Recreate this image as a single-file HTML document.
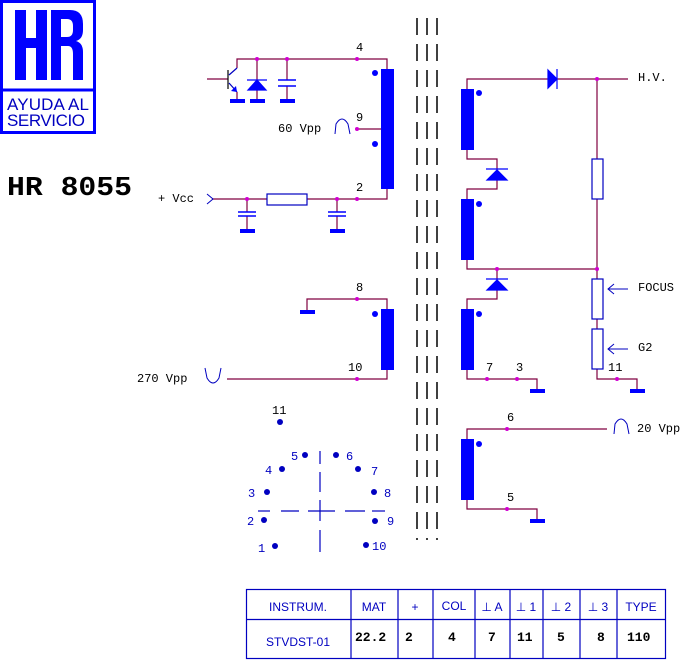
<!DOCTYPE html>
<html><head><meta charset="utf-8"><style>
html,body{margin:0;padding:0;background:#fff;}
svg{display:block;}
.m{font-family:"Liberation Mono",monospace;font-size:12px;fill:#000;}
.s{font-family:"Liberation Sans",sans-serif;fill:#0000c0;}
</style></head><body>
<svg width="686" height="660" viewBox="0 0 686 660" xmlns="http://www.w3.org/2000/svg">
<!-- logo -->
<rect x="1.5" y="1.5" width="93" height="131" fill="none" stroke="#0000ff" stroke-width="3"/>
<line x1="1.5" y1="90" x2="94.5" y2="90" stroke="#0000ff" stroke-width="3"/>
<path d="M15 10h11v28h10v-28h11v70h-11v-32h-10v32h-11z" fill="#0000ff"/>
<path d="M51 10h19q13 0 13 14v6q0 9-7 11q7 2 7 11v28h-10v-26q0-8-5-8h-7v34h-10z M61 19v18h6q6 0 6-7v-4q0-7-6-7z" fill="#0000ff" fill-rule="evenodd"/>
<text x="7" y="110" class="s" font-size="17" textLength="82">AYUDA AL</text>
<text x="7" y="126" class="s" font-size="17" textLength="78">SERVICIO</text>
<text x="7" y="195" font-family="Liberation Mono,monospace" font-weight="bold" font-size="27" fill="#000" textLength="125" lengthAdjust="spacingAndGlyphs">HR 8055</text>

<!-- core -->
<g stroke="#000" stroke-width="1.5" stroke-dasharray="17 9">
<line x1="417" y1="18" x2="417" y2="540"/><line x1="427" y1="18" x2="427" y2="540"/><line x1="437" y1="18" x2="437" y2="540"/>
</g>

<g fill="none" stroke="#800040" stroke-width="1.2">
<polyline points="237,68 237,59 387,59 387,69"/>
<line x1="257" y1="59" x2="257" y2="100"/>
<line x1="287" y1="59" x2="287" y2="80"/><line x1="287" y1="86" x2="287" y2="100"/>
<line x1="207" y1="79" x2="228" y2="79"/>
<line x1="357" y1="129" x2="387" y2="129"/>
<polyline points="212,199 387,199 387,189"/>
<line x1="247" y1="199" x2="247" y2="212"/><line x1="247" y1="216" x2="247" y2="230"/>
<line x1="337" y1="199" x2="337" y2="212"/><line x1="337" y1="216" x2="337" y2="230"/>
<polyline points="307,311 307,299 387,299 387,309"/>
<polyline points="227,379 387,379 387,370"/>
<polyline points="467,89 467,79 628,79"/>
<polyline points="467,150 467,159 497,159 497,189 467,189 467,199"/>
<polyline points="467,260 467,269 597,269"/>
<polyline points="497,269 497,299 467,299 467,309"/>
<polyline points="467,370 467,379 537,379 537,389"/>
<line x1="597" y1="79" x2="597" y2="159"/><line x1="597" y1="199" x2="597" y2="279"/>
<line x1="597" y1="319" x2="597" y2="329"/>
<polyline points="597,369 597,379 637,379 637,389"/>
<polyline points="467,439 467,429 607,429"/>
<polyline points="467,500 467,509 537,509 537,520"/>
</g>
<line x1="228" y1="70" x2="228" y2="89" stroke="#000" stroke-width="1.2"/>
<line x1="229" y1="75" x2="237" y2="68" stroke="#0000c0" stroke-width="1.2"/>
<line x1="229" y1="83" x2="237" y2="92" stroke="#0000c0" stroke-width="1.2"/>
<polygon points="237,92 231,91 236,86" fill="#0000ff"/>
<line x1="237" y1="92" x2="237" y2="100" stroke="#800040" stroke-width="1.2"/>
<g fill="#0000ff" stroke="#0000ff" stroke-width="1.2">
<polygon points="257,80 248,90 266,90"/><line x1="247" y1="80" x2="267" y2="80"/>
<polygon points="497,170 487,180 507,180"/><line x1="486" y1="169" x2="508" y2="169"/>
<polygon points="497,280 487,290 507,290"/><line x1="486" y1="279" x2="508" y2="279"/>
<polygon points="548,70 557,79 548,88"/><line x1="557" y1="69" x2="557" y2="89"/>
</g>
<g stroke="#0000ff" stroke-width="1.5">
<line x1="278" y1="80" x2="296" y2="80"/><line x1="278" y1="86" x2="296" y2="86"/>
<line x1="238" y1="212" x2="256" y2="212"/><line x1="238" y1="216" x2="256" y2="216"/>
<line x1="328" y1="212" x2="346" y2="212"/><line x1="328" y1="216" x2="346" y2="216"/>
</g>
<g fill="#0000ff">
<rect x="230" y="99" width="15" height="4"/><rect x="250" y="99" width="15" height="4"/><rect x="280" y="99" width="15" height="4"/>
<rect x="240" y="229" width="15" height="4"/><rect x="330" y="229" width="15" height="4"/>
<rect x="300" y="310" width="15" height="4"/>
<rect x="530" y="389" width="15" height="4"/><rect x="630" y="389" width="15" height="4"/>
<rect x="530" y="519" width="15" height="4"/>
<rect x="381" y="69" width="13" height="120"/>
<rect x="381" y="309" width="13" height="61"/>
<rect x="461" y="89" width="13" height="61"/>
<rect x="461" y="199" width="13" height="61"/>
<rect x="461" y="309" width="13" height="61"/>
<rect x="461" y="439" width="13" height="61"/>
<circle cx="375" cy="73" r="3"/><circle cx="375" cy="144" r="3"/><circle cx="375" cy="314" r="3"/>
<circle cx="479" cy="93" r="3"/><circle cx="479" cy="204" r="3"/><circle cx="479" cy="314" r="3"/><circle cx="479" cy="444" r="3"/>
</g>
<g fill="#fff" stroke="#0000c0" stroke-width="1.2">
<rect x="267" y="194" width="40" height="11"/>
<rect x="592" y="159" width="11" height="40"/>
<rect x="592" y="279" width="11" height="40"/>
<rect x="592" y="329" width="11" height="40"/>
</g>
<g fill="none" stroke="#0000c0" stroke-width="1">
<polyline points="628,289 608,289"/><polyline points="614,284 608,289 614,294"/>
<polyline points="628,349 608,349"/><polyline points="614,344 608,349 614,354"/>
<polyline points="207,194 213,199 207,204"/>
<path d="M335 134 L336 124 Q342 114 348 124 L350 134"/>
<path d="M614 434 L615 424 Q621 414 627 424 L629 434"/>
<path d="M205 368 L207 378 Q213 388 219 378 L221 368"/>
</g>
<g fill="#d000d0">
<circle cx="257" cy="59" r="2"/><circle cx="287" cy="59" r="2"/><circle cx="357" cy="59" r="2"/>
<circle cx="357" cy="129" r="2"/><circle cx="247" cy="199" r="2"/><circle cx="337" cy="199" r="2"/><circle cx="357" cy="199" r="2"/>
<circle cx="357" cy="299" r="2"/><circle cx="357" cy="379" r="2"/>
<circle cx="597" cy="79" r="2"/><circle cx="497" cy="269" r="2"/><circle cx="597" cy="269" r="2"/>
<circle cx="487" cy="379" r="2"/><circle cx="517" cy="379" r="2"/><circle cx="617" cy="379" r="2"/>
<circle cx="507" cy="429" r="2"/><circle cx="507" cy="509" r="2"/>
</g>
<text class="m" x="356" y="51">4</text>
<text class="m" x="356" y="121">9</text>
<text class="m" x="356" y="191">2</text>
<text class="m" x="278" y="132">60 Vpp</text>
<text class="m" x="158" y="202">+ Vcc</text>
<text class="m" x="356" y="291">8</text>
<text class="m" x="348" y="371">10</text>
<text class="m" x="137" y="382">270 Vpp</text>
<text class="m" x="638" y="81">H.V.</text>
<text class="m" x="638" y="291">FOCUS</text>
<text class="m" x="638" y="351">G2</text>
<text class="m" x="486" y="371">7</text>
<text class="m" x="516" y="371">3</text>
<text class="m" x="608" y="371">11</text>
<text class="m" x="507" y="421">6</text>
<text class="m" x="507" y="501">5</text>
<text class="m" x="637" y="432">20 Vpp</text>
<g fill="#0000c0">
<circle cx="280" cy="422" r="3"/><circle cx="305" cy="455" r="3"/><circle cx="336" cy="455" r="3"/>
<circle cx="282" cy="469" r="3"/><circle cx="358" cy="469" r="3"/><circle cx="267" cy="492" r="3"/>
<circle cx="374" cy="492" r="3"/><circle cx="264" cy="520" r="3"/><circle cx="375" cy="521" r="3"/>
<circle cx="275" cy="546" r="3"/><circle cx="366" cy="545" r="3"/>
</g>
<g font-family="Liberation Mono,monospace" font-size="12" fill="#0000c0">
<text x="272" y="414" fill="#000">11</text>
<text x="291" y="460">5</text><text x="346" y="460">6</text>
<text x="265" y="474">4</text><text x="371" y="475">7</text>
<text x="248" y="497">3</text><text x="384" y="497">8</text>
<text x="247" y="525">2</text><text x="387" y="525">9</text>
<text x="258" y="552">1</text><text x="372" y="550">10</text>
</g>
<g stroke="#0000c0" stroke-width="1.2">
<line x1="258" y1="511" x2="270" y2="511"/><line x1="281" y1="511" x2="299" y2="511"/>
<line x1="308" y1="511" x2="335" y2="511"/><line x1="345" y1="511" x2="365" y2="511"/><line x1="372" y1="511" x2="385" y2="511"/>
<line x1="320" y1="451" x2="320" y2="464"/><line x1="320" y1="472" x2="320" y2="492"/>
<line x1="320" y1="500" x2="320" y2="521"/><line x1="320" y1="530" x2="320" y2="552"/>
</g>
<g fill="none" stroke="#0000c0" stroke-width="1.2">
<rect x="246.5" y="589.5" width="419" height="69"/>
<line x1="246" y1="619.5" x2="666" y2="619.5"/>
<line x1="351" y1="589" x2="351" y2="659"/><line x1="398" y1="589" x2="398" y2="659"/>
<line x1="433" y1="589" x2="433" y2="659"/><line x1="475" y1="589" x2="475" y2="659"/>
<line x1="510" y1="589" x2="510" y2="659"/><line x1="543" y1="589" x2="543" y2="659"/>
<line x1="580" y1="589" x2="580" y2="659"/><line x1="617" y1="589" x2="617" y2="659"/>
</g>
<g class="s" font-size="12" text-anchor="middle">
<text x="298" y="611">INSTRUM.</text><text x="374" y="611">MAT</text><text x="415" y="611">+</text>
<text x="454" y="610">COL</text><text x="492" y="611">⊥ A</text><text x="526" y="611">⊥ 1</text>
<text x="561" y="611">⊥ 2</text><text x="598" y="611">⊥ 3</text><text x="641" y="611">TYPE</text>
<text x="298" y="646">STVDST-01</text>
</g>
<g font-family="Liberation Mono,monospace" font-weight="bold" font-size="13" fill="#000">
<text x="355" y="641">22.2</text><text x="405" y="641">2</text><text x="448" y="641">4</text>
<text x="488" y="641">7</text><text x="517" y="641">11</text><text x="557" y="641">5</text>
<text x="597" y="641">8</text><text x="627" y="641">110</text>
</g>
</svg>
</body></html>
